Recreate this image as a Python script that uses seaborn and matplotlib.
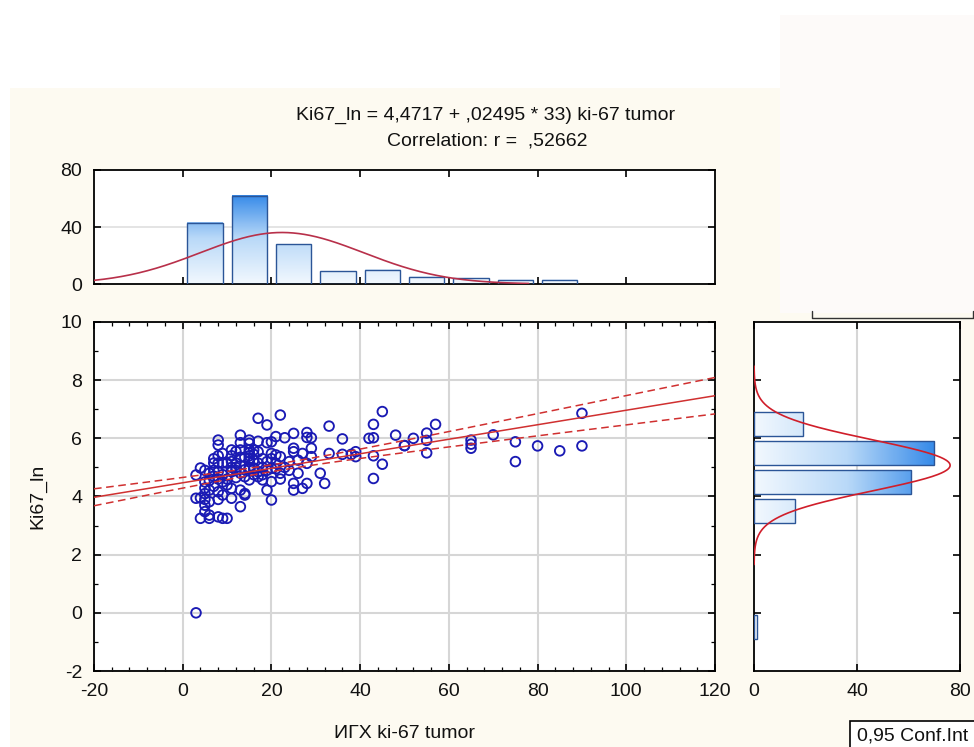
import numpy as np
import pandas as pd
import matplotlib
matplotlib.use("Agg")
import matplotlib.pyplot as plt
from matplotlib.colors import LinearSegmentedColormap
from matplotlib.patches import Rectangle
from matplotlib.lines import Line2D
from matplotlib.ticker import MultipleLocator
import seaborn as sns

# ---- data: ИГХ ki-67 tumor (%) vs Ki67_ln, one pair per case ----
ki67_tumor = [
    3, 8, 8, 9, 7, 8, 9, 10, 4, 3,
    5, 6, 7, 7, 8, 8, 9, 9, 10, 6, 10,
    5, 6, 8, 3, 4, 5, 6, 8, 9,
    5, 6, 8, 4, 6, 9, 10,
    5, 5, 7, 5, 8, 7,
    17, 19, 13, 15, 15, 19, 20, 11, 13, 15, 17, 20, 20,
    15, 15, 15, 15, 15, 16, 16, 16, 14, 14, 15, 16,
    11, 11, 11, 11, 12, 12, 12,
    12, 14, 15, 17, 18, 20, 11, 13, 14, 14, 19, 20, 11, 13,
    13, 17, 18, 18, 17, 19, 17, 13, 16, 18, 11, 13, 12, 19, 20, 16,
    22, 21, 23, 25, 28, 28, 29, 25, 25, 27, 29, 22, 29, 28,
    22, 22, 26, 25, 28, 25, 27, 21, 21, 23, 24, 21, 24, 26,
    33, 36, 33, 36, 38, 39, 39, 31, 32,
    45, 43, 42, 43, 48, 43, 50, 50, 45, 43,
    52, 55, 55, 55, 57, 65, 65, 65, 70, 75, 75, 80, 85, 90, 90,
]
ki67_ln = [
    0.00, 5.94, 5.77, 5.48, 5.15, 5.15, 5.15, 5.15, 4.98, 4.74,
    4.90, 4.80, 4.70, 4.90, 4.60, 4.85, 4.75, 4.50, 4.60, 4.55, 4.40,
    4.29, 4.22, 4.16, 3.94, 3.95, 3.90, 3.82, 3.90, 4.05,
    3.48, 3.36, 3.30, 3.25, 3.25, 3.25, 3.25,
    4.10, 3.70, 4.35, 4.50, 5.40, 5.30,
    6.69, 6.46, 6.11, 5.94, 5.83, 5.85, 5.88, 5.60, 5.60, 5.50, 5.54, 5.48, 4.97,
    5.00, 4.95, 5.20, 5.30, 5.40, 4.98, 5.25, 5.45, 4.92, 5.35, 5.60, 5.60,
    5.20, 5.00, 4.85, 4.90, 5.00, 4.90, 5.15,
    4.65, 4.68, 4.57, 4.68, 4.57, 4.51, 4.28, 4.22, 4.10, 4.05, 4.22, 3.88, 3.94, 3.65,
    5.85, 5.90, 5.30, 5.00, 5.15, 4.90, 4.85, 4.80, 4.75, 4.75, 5.40, 5.35, 5.55, 5.20, 5.30, 4.95,
    6.80, 6.06, 6.02, 6.17, 6.20, 6.03, 6.02, 5.66, 5.54, 5.48, 5.66, 5.37, 5.37, 5.14,
    4.80, 4.60, 4.80, 4.45, 4.45, 4.22, 4.28, 5.43, 5.14, 5.00, 5.20, 4.95, 4.90, 5.25,
    6.42, 5.98, 5.48, 5.45, 5.45, 5.54, 5.37, 4.80, 4.45,
    6.92, 6.48, 6.00, 6.02, 6.11, 5.40, 5.75, 5.75, 5.11, 4.62,
    6.00, 6.18, 5.93, 5.50, 6.48, 5.94, 5.66, 5.80, 6.12, 5.88, 5.20, 5.74, 5.57, 6.86, 5.74,
]

# reported fit
intercept = 4.4717
slope = 0.02495
corr_r = 0.52662
t95 = 1.9744  # Student t quantile, n-2 = 165 d.f.

x_edges = list(range(0, 100, 10))      # 0..90
y_edges = list(range(-1, 8))           # -1..7

# ---- figure set-up ----
sns.set_theme(style="white")
plt.rcParams["font.family"] = ["Liberation Sans", "DejaVu Sans"]
plt.rcParams["text.color"] = "#111111"
plt.rcParams["axes.unicode_minus"] = False

W, H = 974, 747
fig = plt.figure(figsize=(W / 100, H / 100), dpi=100)
fig.patch.set_facecolor("white")


def box(px0, py0, px1, py1):
    return [px0 / W, 1 - py1 / H, (px1 - px0) / W, (py1 - py0) / H]


CREAM = "#FDFAF1"
fig.add_artist(Rectangle((10 / W, 0), 1, 1 - 88 / H, transform=fig.transFigure,
                         facecolor=CREAM, edgecolor="none", zorder=-10))
fig.add_artist(Rectangle((780 / W, 1 - 313 / H), 1, (313 - 15) / H, transform=fig.transFigure,
                         facecolor="#FDFAF9", edgecolor="none", zorder=-9))
fig.add_artist(Line2D([812 / W, 812 / W, 973 / W, 973 / W],
                      [1 - 311 / H, 1 - 318 / H, 1 - 318 / H, 1 - 311 / H],
                      transform=fig.transFigure, color="#333333", lw=1.0))

ax_top = fig.add_axes(box(94, 170, 715, 284))
ax = fig.add_axes(box(94, 322, 715, 671))
ax_r = fig.add_axes(box(754, 322, 960, 671))

x = np.asarray(ki67_tumor, float)
y = np.asarray(ki67_ln, float)
n = len(x)

# histogram counts with right-closed bins (a, b]
xe = np.asarray(x_edges, float)
ye = np.asarray(y_edges, float)
x_counts = np.bincount(np.searchsorted(xe, x, side="left") - 1, minlength=len(xe) - 1)
y_counts = np.bincount(np.searchsorted(ye, y, side="left") - 1, minlength=len(ye) - 1)
hx = pd.DataFrame({"center": (xe[:-1] + xe[1:]) / 2, "count": x_counts})
hy = pd.DataFrame({"center": (ye[:-1] + ye[1:]) / 2, "count": y_counts})

EDGE = "#2B5597"
cmap_bar = LinearSegmentedColormap.from_list("bar", ["#F2F8FE", "#B9D9F8", "#2F86E8"])

sns.histplot(data=hx, x="center", weights="count", bins=x_edges, shrink=0.8, ax=ax_top,
             color="#3b8de8", edgecolor=EDGE, linewidth=1.0, alpha=1)
sns.histplot(data=hy, y="center", weights="count", bins=y_edges, shrink=0.82, ax=ax_r,
             color="#3b8de8", edgecolor=EDGE, linewidth=1.0, alpha=1)

# gradient fill inside each bar
for p in list(ax_top.patches):
    x0, w, h = p.get_x(), p.get_width(), p.get_height()
    p.set_facecolor("none")
    p.set_zorder(3)
    if h <= 0:
        p.set_visible(False)
        continue
    grad = np.linspace(0, h, 128).reshape(-1, 1)
    ax_top.imshow(grad, extent=[x0, x0 + w, 0, h], origin="lower", cmap=cmap_bar,
                  vmin=0, vmax=64, aspect="auto", zorder=2, interpolation="bilinear")
for p in list(ax_r.patches):
    y0, hh, w = p.get_y(), p.get_height(), p.get_width()
    p.set_facecolor("none")
    p.set_zorder(3)
    if w <= 0:
        p.set_visible(False)
        continue
    grad = np.linspace(0, w, 128).reshape(1, -1)
    ax_r.imshow(grad, extent=[0, w, y0, y0 + hh], origin="lower", cmap=cmap_bar,
                vmin=0, vmax=72, aspect="auto", zorder=2, interpolation="bilinear")

# fitted normal curves on the marginals
mx, sx = x.mean(), x.std(ddof=1)
my, sy = y.mean(), y.std(ddof=1)
gx = np.linspace(-20, 78, 400)
ax_top.plot(gx, n * 10 * np.exp(-0.5 * ((gx - mx) / sx) ** 2) / (sx * np.sqrt(2 * np.pi)),
            color="#B8304A", lw=1.2, zorder=4)
gy = np.linspace(my - 3.9 * sy, my + 3.9 * sy, 400)
ax_r.plot(n * 1 * np.exp(-0.5 * ((gy - my) / sy) ** 2) / (sy * np.sqrt(2 * np.pi)), gy,
          color="#D01E2A", lw=1.2, zorder=4)

# scatter with regression line and 95% confidence band
ax.grid(True, which="major", color="#D6D6D6", lw=1.5, zorder=0)
ax.set_axisbelow(True)
sns.scatterplot(x=x, y=y, ax=ax, marker="o", s=48, facecolors="none",
                edgecolor="#1A1AB4", linewidth=1.35, zorder=3)
gl = np.linspace(-20, 120, 300)
fit = intercept + slope * gl
resid = y - (intercept + slope * x)
s_err = np.sqrt(np.sum(resid ** 2) / (n - 2))
sxx = np.sum((x - mx) ** 2)
half = t95 * s_err * np.sqrt(1 / n + (gl - mx) ** 2 / sxx)
ax.plot(gl, fit, color="#D03030", lw=1.1, zorder=4)
ax.plot(gl, fit + half, color="#D03030", lw=1.1, ls=(0, (5, 3)), zorder=4)
ax.plot(gl, fit - half, color="#D03030", lw=1.1, ls=(0, (5, 3)), zorder=4)

# ---- axes styling ----
FS = 14
for a in (ax_top, ax, ax_r):
    a.set_facecolor("white")
    for sp in a.spines.values():
        sp.set_visible(True)
        sp.set_color("black")
        sp.set_linewidth(1.3)
    a.set_xlabel("")
    a.set_ylabel("")
    a.tick_params(which="both", direction="in", top=True, right=True, bottom=True, left=True,
                  colors="black", labelcolor="#111111", labelsize=FS)
    a.tick_params(which="major", length=5, width=1.2)
    a.tick_params(which="minor", length=3, width=0.9)

ax_top.set_xlim(-20, 120)
ax_top.set_ylim(0, 80)
ax_top.set_xticks(np.arange(0, 101, 20))
ax_top.set_yticks([0, 40, 80])
ax_top.tick_params(labelbottom=False)
ax_top.tick_params(axis="y", pad=8.5)
ax_top.grid(False)
ax_top.axhline(40, color="#E2E2E2", lw=1.3, zorder=0)

ax.set_xlim(-20, 120)
ax.set_ylim(-2, 10)
ax.set_xticks(np.arange(-20, 121, 20))
ax.set_yticks(np.arange(-2, 11, 2))
ax.xaxis.set_minor_locator(MultipleLocator(4))
ax.yaxis.set_minor_locator(MultipleLocator(1))
ax.tick_params(axis="x", pad=9)
ax.tick_params(axis="y", pad=8.5)

ax_r.set_xlim(0, 80)
ax_r.set_ylim(-2, 10)
ax_r.set_xticks([0, 40, 80])
ax_r.set_yticks(np.arange(0, 9, 2))
ax_r.tick_params(labelleft=False)
ax_r.tick_params(axis="x", pad=9)
ax_r.grid(False)
ax_r.axvline(40, color="#D6D6D6", lw=1.5, zorder=0)

# ---- texts ----
a_txt = f"{intercept:.4f}".replace(".", ",")
b_txt = f"{slope:.5f}".lstrip("0").replace(".", ",")
r_txt = f"{corr_r:.5f}".lstrip("0").replace(".", ",")
fig.text(486 / W, 1 - 115 / H, f"Ki67_ln = {a_txt} + {b_txt} * 33) ki-67 tumor",
         ha="center", va="center", fontsize=FS)
fig.text(487 / W, 1 - 141 / H, f"Correlation: r =  {r_txt}", ha="center", va="center", fontsize=FS)
fig.text(404 / W, 1 - 733 / H, "ИГХ ki-67 tumor", ha="center", va="center", fontsize=FS)
fig.text(38 / W, 1 - 496 / H, "Ki67_ln", ha="center", va="center", rotation=90, fontsize=FS)

fig.add_artist(Rectangle((850 / W, 1 - 752 / H), 135 / W, 31 / H, transform=fig.transFigure,
                         facecolor="white", edgecolor="black", lw=1.2, zorder=5))
fig.text(857 / W, 1 - 736 / H, "0,95 Conf.Int", ha="left", va="center", fontsize=FS, zorder=6)

fig.savefig("out.png", dpi=100, facecolor=fig.get_facecolor())
